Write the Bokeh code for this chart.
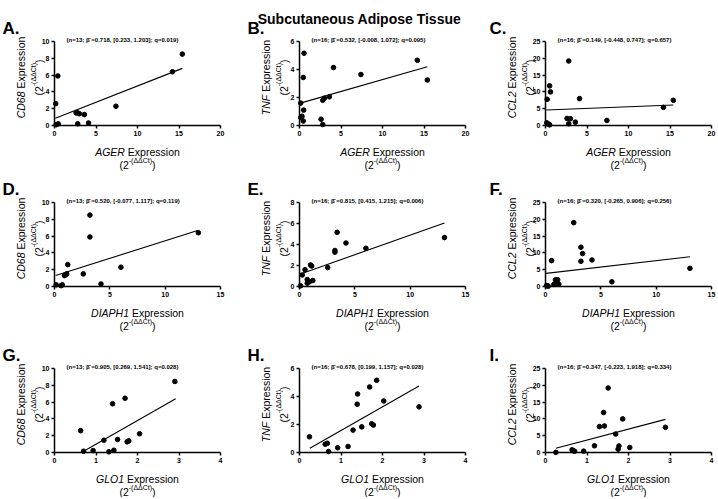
import math
from bokeh.plotting import figure
from bokeh.layouts import column, row
from bokeh.models import Label, Range1d, FixedTicker
from bokeh.embed import file_html
from bokeh.resources import INLINE

# ---------------- data ----------------
title_text = "Subcutaneous Adipose Tissue"
letters = ["A.", "B.", "C.", "D.", "E.", "F.", "G.", "H.", "I."]
x_genes = ["AGER", "DIAPH1", "GLO1"]          # one per row
y_genes = ["CD68", "TNF", "CCL2"]             # one per column
notes = [
    "(n=13; \u03b2\u0302 =0.718, [0.233, 1.203]; q=0.019)",
    "(n=16; \u03b2\u0302 =0.532, [-0.008, 1.072]; q=0.095)",
    "(n=16; \u03b2\u0302 =0.149, [-0.448, 0.747]; q=0.657)",
    "(n=13; \u03b2\u0302 =0.520, [-0.077, 1.117]; q=0.119)",
    "(n=16; \u03b2\u0302 =0.815, [0.415, 1.215]; q=0.006)",
    "(n=16; \u03b2\u0302 =0.320, [-0.265, 0.906]; q=0.256)",
    "(n=13; \u03b2\u0302 =0.905, [0.269, 1.541]; q=0.028)",
    "(n=16; \u03b2\u0302 =0.678, [0.199, 1.157]; q=0.028)",
    "(n=16; \u03b2\u0302 =0.347, [-0.223, 1.918]; q=0.334)",
]

x_ticks_ager = [0, 5, 10, 15, 20]
x_ticks_diaph1 = [0, 5, 10, 15]
x_ticks_glo1 = [0, 1, 2, 3, 4]
y_ticks_cd68 = [0, 2, 4, 6, 8, 10]
y_ticks_tnf6 = [0, 2, 4, 6]
y_ticks_tnf8 = [0, 2, 4, 6, 8]
y_ticks_ccl2 = [0, 5, 10, 15, 20, 25]

# A: AGER vs CD68
a_x = [15.4, 14.2, 0.4, 0.15, 7.4, 2.6, 2.8, 3.0, 3.6, 2.8, 4.1, 0.2, 0.45]
a_y = [8.5, 6.4, 5.9, 2.6, 2.3, 1.5, 1.5, 1.4, 1.3, 0.2, 0.3, 0.1, 0.2]
a_fit_x = [0.1, 15.4]
a_fit_y = [0.85, 6.8]
# B: AGER vs TNF
b_x = [0.55, 0.45, 4.1, 7.4, 14.2, 15.4, 3.6, 3.0, 2.8, 0.15, 0.5, 0.3, 0.15, 0.45, 2.6, 2.8]
b_y = [5.16, 3.43, 4.14, 3.64, 4.66, 3.25, 2.05, 1.95, 1.8, 1.6, 1.1, 0.66, 0.57, 0.32, 0.45, 0.07]
b_fit_x = [0.1, 15.4]
b_fit_y = [1.6, 4.2]
# C: AGER vs CCL2
c_x = [2.8, 0.5, 0.6, 0.2, 4.1, 15.4, 14.2, 2.6, 3.0, 3.6, 7.4, 2.8, 0.15, 0.3, 0.45, 0.5]
c_y = [19.2, 11.8, 10.0, 7.8, 8.0, 7.5, 5.4, 2.1, 2.0, 1.0, 1.5, 0.5, 0.8, 0.5, 0.3, 0.2]
c_fit_x = [0.1, 15.4]
c_fit_y = [4.6, 6.1]
# D: DIAPH1 vs CD68
d_x = [3.2, 13.0, 3.2, 1.2, 6.0, 2.6, 1.1, 1.0, 0.9, 4.2, 0.7, 0.15, 0.6]
d_y = [8.5, 6.4, 5.9, 2.6, 2.3, 1.5, 1.5, 1.4, 1.3, 0.3, 0.2, 0.2, 0.1]
d_fit_x = [0.1, 13.0]
d_fit_y = [1.3, 6.7]
# E: DIAPH1 vs TNF
e_x = [3.4, 13.1, 4.2, 6.0, 3.2, 3.2, 1.0, 1.1, 2.55, 0.5, 0.25, 0.7, 1.2, 0.9, 0.7, 0.1]
e_y = [5.16, 4.66, 4.14, 3.64, 3.43, 3.27, 2.05, 1.95, 1.8, 1.6, 1.1, 0.66, 0.57, 0.45, 0.32, 0.07]
e_fit_x = [0.1, 13.1]
e_fit_y = [1.2, 6.05]
# F: DIAPH1 vs CCL2
f_x = [2.55, 3.2, 3.35, 3.2, 4.2, 0.55, 13.05, 6.0, 0.9, 1.1, 0.75, 0.95, 1.2, 0.1, 0.2, 0.25]
f_y = [19.0, 11.7, 9.8, 7.5, 7.9, 7.7, 5.4, 1.4, 2.0, 2.0, 0.6, 0.9, 0.7, 0.3, 0.2, 0.1]
f_fit_x = [0.05, 13.05]
f_fit_y = [3.9, 8.85]
# G: GLO1 vs CD68
g_x = [2.9, 1.7, 1.4, 0.63, 2.05, 1.19, 1.52, 1.75, 1.79, 0.7, 0.93, 1.31, 1.43]
g_y = [8.46, 6.46, 5.8, 2.6, 2.23, 1.46, 1.55, 1.27, 1.38, 0.15, 0.23, 0.08, 0.27]
g_fit_x = [0.67, 2.92]
g_fit_y = [0.05, 6.4]
# H: GLO1 vs TNF
h_x = [1.86, 1.69, 1.40, 1.39, 2.03, 2.88, 1.29, 1.5, 1.74, 1.78, 0.24, 0.62, 0.67, 0.92, 1.17, 0.7]
h_y = [5.16, 4.68, 4.18, 3.45, 3.68, 3.26, 1.6, 1.83, 2.05, 1.96, 1.12, 0.59, 0.66, 0.34, 0.43, 0.07]
h_fit_x = [0.25, 2.88]
h_fit_y = [0.3, 4.75]
# I: GLO1 vs CCL2
i_x = [1.51, 1.40, 1.86, 1.30, 1.42, 2.89, 1.69, 1.18, 1.77, 1.75, 2.03, 0.64, 0.70, 0.92, 0.25, 0.67]
i_y = [19.2, 11.9, 10.0, 7.7, 7.9, 7.5, 5.5, 2.0, 1.95, 1.0, 1.5, 0.8, 0.4, 0.4, 0.05, 0.5]
i_fit_x = [0.25, 2.89]
i_fit_y = [1.27, 9.86]

# ---------------- layout / style ----------------
FONT = "Liberation Sans"
FW, FH = 166, 84                                      # size of each plotting box (px)
COLS = [(240, 54), (245, 59), (231, 60)]              # figure width, box left offset
ROWS = [(171, 41), (163, 31), (163, 34)]              # figure height, box top offset
LETTER_DX = [-52, -52, -56]

ARIAL = {' ': 278, '(': 333, ')': 333, '-': 333, 'A': 667, 'B': 667, 'C': 722, 'D': 722,
         'E': 667, 'F': 611, 'G': 778, 'H': 722, 'I': 278, 'L': 556, 'N': 722, 'O': 778,
         'P': 667, 'R': 722, 'T': 611, 'x': 500, 'p': 556, 'r': 333, 'e': 556, 's': 500,
         'i': 222, 'o': 556, 'n': 556, 't': 278, '\u0394': 668}


def tw(s, size):
    return sum(ARIAL.get(ch, 556) for ch in s) * size / 1000.0


def lab(p, xr, yr, px, py, text, size, style="normal", align="left",
        baseline="alphabetic", angle=0.0):
    x = xr[0] + px / FW * (xr[1] - xr[0])
    y = yr[1] - py / FH * (yr[1] - yr[0])
    p.add_layout(Label(x=x, y=y, text=text, text_font=FONT, text_font_size=f"{size}px",
                       text_font_style=style, text_align=align, text_baseline=baseline,
                       angle=angle, text_color="black"))


def panel(ri, ci, xs, ys, fx, fy, xt, yt):
    wtot, bl = COLS[ci]
    htot, bt = ROWS[ri]
    br = wtot - bl - FW
    bb = htot - bt - FH
    xr = (xt[0], xt[-1])
    yr = (yt[0], yt[-1])
    sx = (xr[1] - xr[0]) / FW
    sy = (yr[1] - yr[0]) / FH
    p = figure(width=wtot, height=htot,
               x_range=Range1d(xr[0] - bl * sx, xr[1] + br * sx),
               y_range=Range1d(yr[0] - bb * sy, yr[1] + bt * sy),
               output_backend="svg", toolbar_location=None,
               min_border=0, min_border_left=0, min_border_right=0,
               min_border_top=0, min_border_bottom=0)
    p.outline_line_color = None
    p.xgrid.visible = False
    p.ygrid.visible = False
    p.background_fill_color = "white"
    p.border_fill_color = "white"
    for ax in (p.xaxis[0], p.yaxis[0]):
        ax.axis_line_width = 1.5
        ax.axis_line_color = "black"
        ax.major_tick_line_width = 1.5
        ax.major_tick_line_color = "black"
        ax.major_tick_out = 3
        ax.major_tick_in = 0
        ax.minor_tick_line_color = None
        ax.major_label_text_font = FONT
        ax.major_label_text_font_size = "7px"
        ax.major_label_text_font_style = "bold"
        ax.major_label_text_color = "black"
        ax.major_label_standoff = 2
    p.xaxis[0].ticker = FixedTicker(ticks=xt)
    p.yaxis[0].ticker = FixedTicker(ticks=yt)
    p.xaxis[0].fixed_location = yt[0]
    p.xaxis[0].bounds = xr
    p.yaxis[0].fixed_location = xt[0]
    p.yaxis[0].bounds = yr

    p.line(fx, fy, line_width=1.1, line_color="black")
    p.scatter(xs, ys, size=4.6, color="black")

    k = ri * 3 + ci
    # panel letter
    lab(p, xr, yr, LETTER_DX[ci], -13, letters[k], 17, "bold")
    # statistics note
    lab(p, xr, yr, 12, -2, notes[k], 6, "bold", "left", "middle")

    sz = 10.5
    sup = 7
    sp = tw(" ", sz)
    # x title
    xg = x_genes[ri]
    wg = tw(xg, sz)
    wt = wg + tw(" Expression", sz)
    xj = FW / 2 - wt / 2 + wg
    lab(p, xr, yr, xj, FH + 26.5, xg, sz, "italic", "right")
    lab(p, xr, yr, xj + sp, FH + 26.5, "Expression", sz, "normal", "left")
    w1, w2, w3 = tw("(2", sz), tw("-(\u0394\u0394Ct)", sup), tw(")", sz)
    x0 = FW / 2 - (w1 + w2 + w3) / 2
    lab(p, xr, yr, x0, FH + 39.5, "(2", sz)
    lab(p, xr, yr, x0 + w1, FH + 34.5, "-(\u0394\u0394Ct)", sup)
    lab(p, xr, yr, x0 + w1 + w2, FH + 39.5, ")", sz)

    # y title (rotated)
    yg = y_genes[ci]
    a = math.pi / 2
    pyc = FH / 2 - 6
    wg = tw(yg, sz)
    wt = wg + tw(" Expression", sz)
    yj = pyc + wt / 2 - wg
    lab(p, xr, yr, -34, yj, yg, sz, "italic", "right", "alphabetic", a)
    lab(p, xr, yr, -34, yj - sp, "Expression", sz, "normal", "left", "alphabetic", a)
    y0 = pyc + (w1 + w2 + w3) / 2
    lab(p, xr, yr, -16, y0, "(2", sz, "normal", "left", "alphabetic", a)
    lab(p, xr, yr, -21, y0 - w1, "-(\u0394\u0394Ct)", sup, "normal", "left", "alphabetic", a)
    lab(p, xr, yr, -16, y0 - w1 - w2, ")", sz, "normal", "left", "alphabetic", a)

    if k == 1:
        lab(p, xr, yr, 359 - 299, -23, title_text, 14, "bold", "center", "alphabetic")
    return p


specs = [
    (a_x, a_y, a_fit_x, a_fit_y, x_ticks_ager, y_ticks_cd68),
    (b_x, b_y, b_fit_x, b_fit_y, x_ticks_ager, y_ticks_tnf6),
    (c_x, c_y, c_fit_x, c_fit_y, x_ticks_ager, y_ticks_ccl2),
    (d_x, d_y, d_fit_x, d_fit_y, x_ticks_diaph1, y_ticks_cd68),
    (e_x, e_y, e_fit_x, e_fit_y, x_ticks_diaph1, y_ticks_tnf8),
    (f_x, f_y, f_fit_x, f_fit_y, x_ticks_diaph1, y_ticks_ccl2),
    (g_x, g_y, g_fit_x, g_fit_y, x_ticks_glo1, y_ticks_cd68),
    (h_x, h_y, h_fit_x, h_fit_y, x_ticks_glo1, y_ticks_tnf6),
    (i_x, i_y, i_fit_x, i_fit_y, x_ticks_glo1, y_ticks_ccl2),
]

rows = []
for ri in range(3):
    figs = []
    for ci in range(3):
        s = specs[ri * 3 + ci]
        figs.append(panel(ri, ci, *s))
    rows.append(row(*figs, spacing=0))
layout = column(*rows, spacing=0)

open("out.html", "w").write(file_html(layout, INLINE))
